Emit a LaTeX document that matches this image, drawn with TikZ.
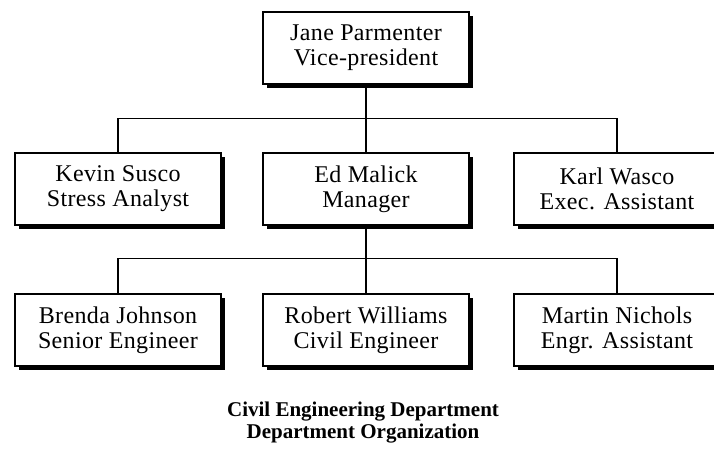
\documentclass[tikz,border=0pt]{standalone}
\usepackage{fontspec}
\setmainfont{Liberation Serif}
\newfontfamily\cardfont{Liberation Serif}[LetterSpace=1.5]
\usetikzlibrary{shadows}

\begin{document}
\begin{tikzpicture}[x=1pt,y=-1pt,
    card/.style={draw,line width=1.4pt,fill=white,minimum width=206pt,minimum height=72pt,
        inner sep=0pt,align=center,font=\cardfont\fontsize{24}{25}\selectfont,
        drop shadow={shadow xshift=4pt,shadow yshift=-4pt,fill=black,opacity=1}},
    link/.style={line width=1.5pt}]
    \useasboundingbox (0,0) rectangle (714,451);

    % vice-president on top
    \node[card] (vp) at (366,48) {Jane Parmenter\\Vice-president};

    % second row
    \node[card] (kevin) at (118,189) {Kevin Susco\\Stress Analyst};
    \node[card] (ed) at (366,189) {Ed Malick\\Manager};
    \node[card] (karl) at (617,189) {Karl Wasco\\Exec. Assistant};

    % third row, under the manager
    \node[card] (brenda) at (118,330) {Brenda Johnson\\Senior Engineer};
    \node[card] (robert) at (366,330) {Robert Williams\\Civil Engineer};
    \node[card] (martin) at (617,330) {Martin Nichols\\Engr. Assistant};

    \draw[link] (vp.south) -- ++(0,34) coordinate (hub1);
    \draw[link] (kevin.north) |- (hub1) -| (karl.north);
    \draw[link] (hub1) -- (ed.north);

    \draw[link] (ed.south) -- ++(0,33) coordinate (hub2);
    \draw[link] (brenda.north) |- (hub2) -| (martin.north);
    \draw[link] (hub2) -- (robert.north);

    \node[font=\bfseries\fontsize{21}{22}\selectfont,align=center] (caption) at (363,423)
        {Civil Engineering Department\\Department Organization};
\end{tikzpicture}
\end{document}
